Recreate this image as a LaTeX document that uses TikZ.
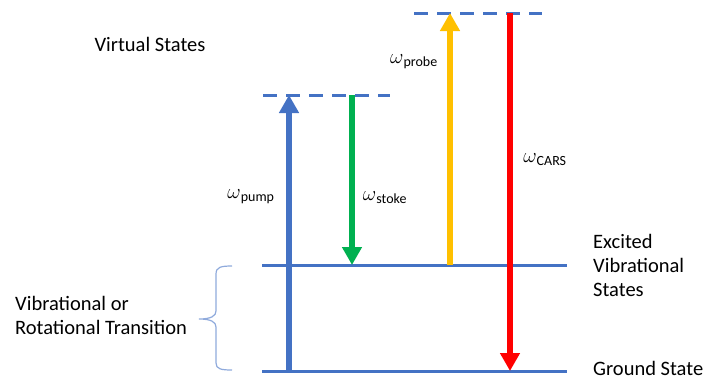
\documentclass[tikz,border=0pt]{standalone}
\usepackage{fontspec}
\setmainfont{Carlito}
\usetikzlibrary{arrows.meta}
\definecolor{lblue}{HTML}{4472C4}
\definecolor{bracec}{HTML}{8FAADC}
\definecolor{stokeg}{HTML}{00B050}
\definecolor{probey}{HTML}{FFC000}
\definecolor{carsr}{HTML}{FF0000}
\newcommand\omlab[1]{$\omega$\textsubscript{#1}}

\begin{document}
\begin{tikzpicture}[x=1pt,y=-1pt]

		\tikzset{level/.style = {draw=lblue,line width=3pt}}
		\tikzset{vlevel/.style = {level,dash pattern=on 14pt off 9pt}}
		\tikzset{beam/.style = {draw=#1,line width=6pt,-{Triangle[width=19pt,length=18pt]}}}
		\tikzset{lbl/.style = {font=\fontsize{20.5}{24}\selectfont,align=left,inner sep=0pt}}
		\tikzset{wlbl/.style = {font=\fontsize{20}{22}\selectfont,inner sep=0pt}}
		\useasboundingbox (0,0) rectangle (703,381);
		% level ends
		\coordinate (g1) at (262,371);
		\coordinate (g2) at (567,371);
		\coordinate (e1) at (262,265);
		\coordinate (e2) at (567,265);
		\coordinate (v1) at (263,95);
		\coordinate (v2) at (390,95);
		\coordinate (u1) at (414,13);
		\coordinate (u2) at (542,13);
		% beam ends
		\coordinate (pumpA) at (289,371);
		\coordinate (pumpB) at (289,95);
		\coordinate (stokeA) at (352,95);
		\coordinate (stokeB) at (352,265);
		\coordinate (probeA) at (450,265);
		\coordinate (probeB) at (450,13);
		\coordinate (carsA) at (510,13);
		\coordinate (carsB) at (510,371);
		% levels
		\draw[level] (g1) -- (g2);
		\draw[level] (e1) -- (e2);
		\draw[vlevel] (v1) -- (v2);
		\draw[vlevel] (u1) -- (u2);
		% beams
		\draw[beam=lblue] (pumpA) -- (pumpB);
		\draw[beam=stokeg] (stokeA) -- (stokeB);
		\draw[beam=probey] (probeA) -- (probeB);
		\draw[beam=carsr] (carsA) -- (carsB);
		% brace
		\draw[bracec,line width=1.2pt] (232,266) .. controls (221,266) and (216,267) .. (216,274) -- (216,311)
			.. controls (216,316) and (211,319) .. (199,319) .. controls (211,319) and (216,322) .. (216,327)
			-- (216,363) .. controls (216,369) and (221,370) .. (232,370);
		% labels
		\node[lbl] (virt) at (150,44) {Virtual States};
		\node[lbl,anchor=west] (exc) at (593,265) {Excited\\Vibrational\\States};
		\node[lbl,anchor=west] (gnd) at (593,368.5) {Ground State};
		\node[lbl,anchor=west] (trans) at (15,315) {Vibrational or\\Rotational Transition};
		\node[wlbl] (wpump) at (251,197) {\omlab{pump}};
		\node[wlbl] (wstoke) at (385,198) {\omlab{stoke}};
		\node[wlbl] (wprobe) at (414,62) {\omlab{probe}};
		\node[wlbl] (wcars) at (545,160) {\omlab{CARS}};
\end{tikzpicture}
\end{document}
